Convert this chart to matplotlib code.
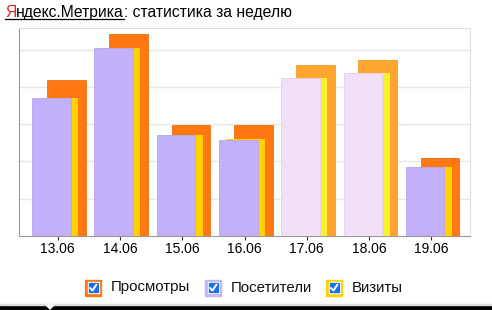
import numpy as np
import matplotlib
matplotlib.use("Agg")
import matplotlib.pyplot as plt
from matplotlib.patches import Rectangle, Polygon
from matplotlib.lines import Line2D

plt.rcParams['font.family'] = ['Liberation Sans', 'DejaVu Sans']

# data (grid step = 100)
days = ['13.06', '14.06', '15.06', '16.06', '17.06', '18.06', '19.06']
views = [418, 542, 298, 298, 458, 472, 209]      # Просмотры
visitors = [370, 504, 271, 257, 424, 437, 185]   # Посетители
visits = [370, 504, 271, 260, 424, 437, 185]     # Визиты
weekend = [False, False, False, False, True, True, False]

c_views, c_views_w = '#ff7811', '#ffa530'
c_vis, c_vis_w = '#c2b1f8', '#f2e0f8'
c_visits, c_visits_w = '#ffd200', '#f9f02e'

fig = plt.figure(figsize=(4.92, 3.10), dpi=100)
W, H = 492, 310
ax = fig.add_axes([19 / W, 1 - 236 / H, 451 / W, 208 / H])

x = np.arange(len(days))
bw = 0.62
ax.bar(x + 0.14, views, bw, color=[c_views_w if w else c_views for w in weekend],
       edgecolor=['#f59a28' if w else '#f06e0c' for w in weekend], linewidth=0.6, zorder=2)
ax.bar(x + 0.02, visits, bw, color=[c_visits_w if w else c_visits for w in weekend],
       linewidth=0, zorder=3)
ax.bar(x - 0.10, visitors, bw, color=[c_vis_w if w else c_vis for w in weekend],
       edgecolor=['#e2cfee' if w else '#b6a4f0' for w in weekend], linewidth=0.6, zorder=4)

ax.set_xlim(-0.62, len(days) - 0.38)
ax.set_ylim(0, 558)
ax.set_yticks(np.arange(100, 600, 100))
ax.yaxis.grid(True, color='#e6e6e6', linewidth=1)
ax.set_axisbelow(True)
ax.tick_params(axis='y', left=False, labelleft=False)
ax.set_xticks(x)
ax.set_xticklabels(days, fontsize=10, color='#000000', fontweight='medium')
ax.tick_params(axis='x', direction='inout', length=6, width=0.8, color='#333333', pad=1.5)
for s in ['top', 'right']:
    ax.spines[s].set_color('#dddddd')
ax.spines['left'].set_color('#999999')
ax.spines['bottom'].set_color('#999999')

# title with link-style part
r = fig.canvas.get_renderer()
tx, ty = 5 / W, 1 - 17 / H
fs = 11.3
t1 = fig.text(tx, ty, 'Я', color='#e0281e', fontsize=fs, va='baseline')
w1 = t1.get_window_extent(r).width / W
t2 = fig.text(tx + w1, ty, 'ндекс.Метрика', color='#000000', fontsize=fs, va='baseline')
w2 = t2.get_window_extent(r).width / W
fig.text(tx + w1 + w2, ty, ': статистика за неделю', color='#000000', fontsize=fs, va='baseline')
fig.add_artist(Line2D([tx, tx + w1 + w2], [ty - 2 / H, ty - 2 / H], color='#000000', linewidth=0.9))

# legend with checkboxes
items = [('Просмотры', c_views, 85), ('Посетители', c_vis, 205), ('Визиты', c_visits, 326)]
cy = 287.5
for label, col, px in items:
    fig.add_artist(Rectangle((px / W, 1 - (cy + 8) / H), 16 / W, 16 / H, color=col))
    fig.add_artist(Rectangle(((px + 2.5) / W, 1 - (cy + 5.5) / H), 11 / W, 11 / H, color='#ffffff'))
    fig.add_artist(Rectangle(((px + 3.5) / W, 1 - (cy + 4.5) / H), 9 / W, 9 / H, color='#1a73e8'))
    fig.add_artist(Line2D([(px + 5) / W, (px + 7.5) / W, (px + 11.5) / W],
                          [1 - (cy + 0.5) / H, 1 - (cy + 3) / H, 1 - (cy - 3) / H],
                          color='white', linewidth=1.4, solid_capstyle='round'))
    fig.text((px + 26) / W, 1 - cy / H, label, fontsize=10.8, color='#111111', va='center')

# bottom strip
fig.add_artist(Rectangle((0, 0), 1, 5 / H, color='#000000'))
fig.add_artist(Rectangle((0, 5 / H), 1, 1.5 / H, color='#dddddd'))
fig.add_artist(Polygon([[46 / W, 5 / H], [54 / W, 5 / H], [50 / W, 1 / H]], color='#ffffff'))

fig.savefig('out.png', dpi=100)
